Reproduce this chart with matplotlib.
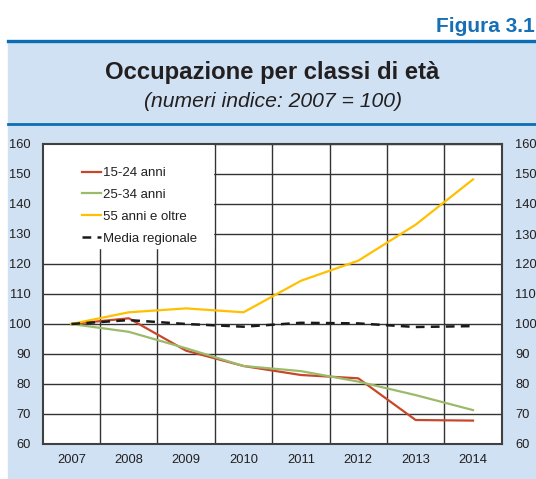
import numpy as np
import matplotlib.pyplot as plt
from matplotlib.patches import Rectangle
from matplotlib.lines import Line2D

plt.rcParams['font.family'] = ['Liberation Sans', 'DejaVu Sans']

years = ["2007", "2008", "2009", "2010", "2011", "2012", "2013", "2014"]
giovani = [100, 101.9, 91.1, 86.0, 83.0, 81.9, 68.0, 67.8]
adulti = [100, 97.4, 91.9, 86.0, 84.3, 80.8, 76.3, 71.3]
anziani = [100, 103.9, 105.2, 103.9, 114.4, 121.1, 133.1, 148.2]
media = [100, 101.3, 100.0, 99.1, 100.4, 100.2, 99.0, 99.3]
yticks = [60, 70, 80, 90, 100, 110, 120, 130, 140, 150, 160]

W, H = 536, 479
fig = plt.figure(figsize=(W / 100, H / 100), dpi=100)

def fx(x):
    return x / W

def fy(y):
    return 1 - y / H

# sfondo del riquadro
fig.patches.append(Rectangle((fx(8), 0), 1 - fx(8), fy(42),
                             transform=fig.transFigure, color="#cfe1f2", zorder=-1))
blu = "#0b6db3"
fig.add_artist(Line2D([fx(8), 1], [fy(41), fy(41)], color=blu, lw=2.4))
fig.add_artist(Line2D([fx(8), 1], [fy(124), fy(124)], color=blu, lw=2.0))

fig.text(fx(535), fy(31.5), "Figura 3.1", ha="right", va="baseline",
         fontsize=15, fontweight="bold", color="#1770b6")
fig.text(fx(272), fy(79), "Occupazione per classi di età", ha="center", va="baseline",
         fontsize=17.2, fontweight="bold", color="#231f20")
fig.text(fx(273), fy(107), "(numeri indice: 2007 = 100)", ha="center", va="baseline",
         fontsize=15.2, style="italic", color="#231f20")

L, R, T, B = 42.7, 501.7, 144, 444
ax = fig.add_axes([fx(L), fy(B), fx(R - L), fy(T) - fy(B)])
ax.set_zorder(2)
x = np.arange(len(years))

ax.plot(x, giovani, color="#c8472b", lw=1.6, label="15-24 anni", zorder=3)
ax.plot(x, adulti, color="#9bbb6a", lw=1.6, label="25-34 anni", zorder=3)
ax.plot(x, anziani, color="#ffc000", lw=1.6, label="55 anni e oltre", zorder=3)
ax.plot(x, media, color="#1a1a1a", lw=1.8, ls=(0, (3.5, 2.5)), label="Media regionale", zorder=4)

ax.set_xlim(-0.5, len(years) - 0.5)
ax.set_ylim(60, 160)
ax.set_yticks(yticks)
ax.set_xticks(x)
ax.set_xticklabels(years)
ax.set_xticks(np.arange(len(years) - 1) + 0.5, minor=True)
ax.grid(axis="y", which="major", color="#333333", lw=1.0)
ax.grid(axis="x", which="minor", color="#333333", lw=1.0)
ax.set_axisbelow(True)

ax.tick_params(axis="both", which="both", length=0, labelsize=9.3, colors="#231f20")
ax.tick_params(axis="y", which="major", pad=8.6)
ax.tick_params(axis="x", pad=7.5)
for sp in ax.spines.values():
    sp.set_color("#404040")
    sp.set_linewidth(1.5)

# etichette a destra
ax2 = ax.twinx()
ax2.set_ylim(60, 160)
ax2.set_yticks(yticks)
ax2.tick_params(axis="y", length=0, labelsize=9.3, colors="#231f20", pad=9.6)
for sp in ax2.spines.values():
    sp.set_visible(False)
ax2.patch.set_visible(False)

# riquadro bianco della legenda
ax.add_patch(Rectangle((0, (B - 248) / (B - T)), (213 - L) / (R - L), 1 - (B - 248) / (B - T),
                       transform=ax.transAxes, color="white", zorder=1))
leg = ax.legend(loc="upper left", bbox_to_anchor=((81.7 - L) / (R - L), (B - 167) / (B - T)),
                frameon=False, borderpad=0, borderaxespad=0, fontsize=9.5,
                handlelength=1.45, handletextpad=0.15, labelspacing=0.725)
for t in leg.get_texts():
    t.set_color("#231f20")

fig.savefig("out.png", dpi=100)
